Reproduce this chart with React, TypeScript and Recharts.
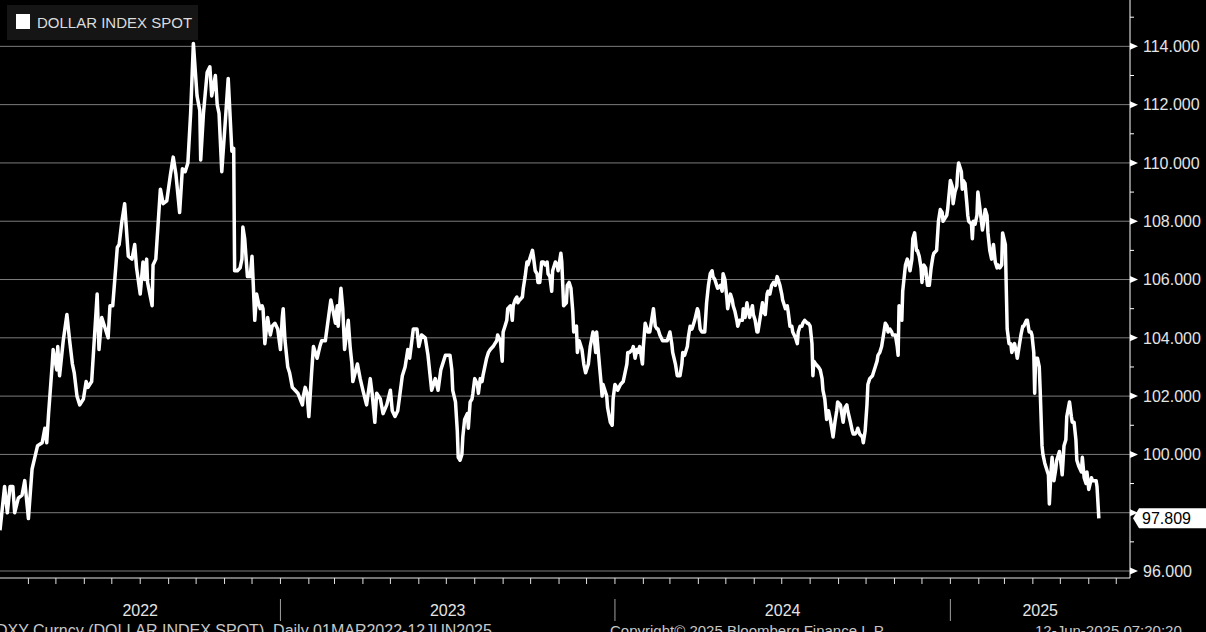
import React from 'react';
import { LineChart, Line, XAxis, YAxis, ReferenceLine } from 'recharts';

// ---- data ----
const seriesName = 'DOLLAR INDEX SPOT';

// days since 01 Mar 2022
const dayOffsets = [
  0,5,8,11,14,16,20,24,27,31,35,38,41,46,49,51,53,57,58,62,
  63,65,69,73,76,79,81,84,87,91,94,96,100,106,108,111,115,118,120,123,
  128,130,133,136,140,144,147,149,153,156,158,160,161,166,167,170,175,178,182,186,
  189,192,196,199,202,205,208,211,215,218,219,222,226,229,231,235,237,239,242,246,
  249,253,255,256,
  259,262,264,265,267,270,273,275,276,278,280,282,284,286,287,289,292,295,297,300,
  303,306,308,309,311,313,314,316,319,322,325,330,331,333,335,337,340,342,346,349,
  351,355,358,361,363,366,368,369,372,374,376,380,382,384,385,390,393,396,400,404,
  406,409,411,415,418,422,426,428,431,434,439,442,445,447,451,455,457,460,464,467,
  471,475,478,481,486,489,491,
  493,494,497,499,500,502,504,505,507,510,511,513,515,516,518,521,522,524,526,527,
  529,531,533,535,538,540,542,543,546,548,549,551,553,554,557,559,560,562,564,565,
  567,570,571,573,575,576,578,581,582,584,586,587,589,591,593,595,597,598,600,602,
  603,606,608,609,612,613,615,618,619,621,623,625,626,629,630,632,635,637,639,642,
  644,647,648,650,651,654,656,657,658,660,662,663,666,668,669,671,673,674,677,680,
  682,684,685,687,690,691,693,695,696,698,701,702,704,706,707,709,713,715,717,718,
  720,723,728,731,
  733,734,737,739,740,742,744,745,747,750,751,753,755,756,758,761,762,764,766,767,
  769,771,773,775,777,778,780,782,783,786,788,789,791,793,794,797,799,800,802,804,
  805,807,810,811,813,815,816,818,821,822,824,826,827,829,832,833,835,837,838,840,
  842,844,846,848,849,851,853,854,857,859,860,862,864,865,868,870,871,873,875,876,
  878,881,882,884,886,887,888,890,893,895,897,898,900,902,904,906,908,909,911,913,
  914,917,919,920,922,924,925,928,930,931,933,935,936,938,941,942,944,946,947,949,
  952,953,955,957,958,
  960,962,964,966,968,969,971,973,974,977,979,980,981,982,984,985,988,990,991,993,
  995,996,998,1000,1001,1003,1005,1006,1008,1010,1012,1014,1016,1018,1019,1022,1024,1026,1028,1029,
  1031,1033,1034,1037,1039,1040,1042,1044,1045,1046,1049,1050,1051,1053,1055,1056,1057,1060,1061,1062,
  1064,1066,1067,1069,1072,1073,1075,1077,1078,1080,1082,1084,1086,1088,1089,1091,1093,1094,1097,1098,
  1099,1101,1103,1104,1107,1109,1110,1112,1114,1116,1117,1120,1121,1123,1125,1126,1128,1129,1130,1132,
  1134,1135,1137,1138,1140,1143,1144,1145,1147,1148,1150,1152,1153,1156,1158,1159,1161,1163,1164,1167,
  1169,1170,1172,1174,1175,1177,1180,1181,1183,1185,1186,1188,1191,1192,1194,1196,1197,1199,
];

const dxyClose = [
  97.4,98.9,98.0,98.9,98.9,98.0,98.5,98.6,99.1,97.8,99.5,99.9,100.3,100.4,100.9,100.4,101.4,103.1,103.6,102.9,
  103.7,102.7,103.9,104.8,103.9,103.1,102.8,102.0,101.7,101.9,102.5,102.3,102.5,105.5,103.6,104.7,104.3,104.0,105.1,105.1,
  107.1,107.2,108.0,108.6,106.8,106.7,107.2,106.4,105.5,106.6,106.0,106.7,105.9,105.1,106.5,106.7,109.1,108.6,108.7,109.6,
  110.2,109.6,108.3,109.8,109.7,110.0,111.7,114.1,112.3,111.8,110.1,111.7,113.1,113.3,112.3,113.0,112.0,111.7,109.7,111.5,
  112.9,110.4,110.5,106.3,
  106.3,106.4,106.7,107.8,107.4,106.1,106.1,106.8,106.1,104.6,105.5,105.2,105.0,105.1,105.0,103.8,104.7,104.1,104.4,104.5,
  104.3,103.6,104.7,105.0,103.9,103.3,103.0,102.8,102.3,102.2,102.1,101.7,102.0,102.3,102.1,101.3,102.8,103.7,103.3,103.7,
  103.9,103.9,104.6,105.3,105.0,104.5,105.1,104.4,105.7,105.0,103.6,104.6,103.7,103.1,102.5,103.1,102.6,102.2,101.7,102.6,
  102.1,101.1,102.1,101.9,101.4,101.7,102.2,101.5,101.3,101.5,102.7,103.0,103.6,103.3,104.3,104.3,103.7,104.1,104.0,103.4,
  102.2,102.6,102.2,102.9,103.4,103.4,103.4,
  102.9,102.2,101.8,100.8,99.9,99.8,100.0,100.6,101.2,101.4,100.9,101.8,101.9,102.1,102.6,102.4,102.1,102.6,102.5,102.7,
  103.0,103.3,103.5,103.6,103.7,103.8,103.9,104.1,103.9,103.2,104.2,104.4,104.6,105.0,105.1,104.6,105.1,105.3,105.4,105.2,
  105.3,105.4,105.7,106.1,106.6,106.5,106.7,107.0,106.8,106.3,106.2,105.9,105.9,106.6,106.6,106.5,106.6,106.2,106.1,105.6,
  106.3,106.6,106.5,106.3,106.9,106.6,105.1,105.2,105.8,105.9,105.7,104.9,104.2,104.4,103.5,103.9,103.6,103.1,102.8,103.1,
  103.7,104.2,104.1,103.5,104.2,103.1,102.4,102.0,102.4,102.2,102.0,101.6,101.1,101.0,101.9,102.4,102.3,102.2,102.4,102.5,
  102.8,103.1,103.5,103.5,103.6,103.7,103.3,103.6,103.5,103.7,103.1,103.7,104.5,104.3,104.2,104.2,105.0,104.4,104.3,104.3,
  104.1,103.9,103.9,104.2,
  103.8,103.5,103.1,102.7,102.7,102.7,103.1,103.5,103.4,103.7,104.0,104.4,104.3,104.4,104.6,105.0,104.9,104.3,104.2,104.2,
  104.2,105.2,105.8,106.2,106.3,106.1,106.0,105.8,105.7,105.8,105.6,106.2,106.0,105.4,105.0,105.5,105.3,105.1,104.9,104.6,
  104.4,104.6,104.6,105.0,104.7,105.2,105.0,104.7,105.1,104.8,104.6,104.2,104.2,104.6,105.2,104.9,104.8,105.5,105.6,105.5,
  105.8,105.9,105.8,106.1,106.0,105.8,105.5,105.3,105.0,105.1,104.9,104.4,104.4,104.2,104.0,103.8,104.2,104.4,104.4,104.5,
  104.6,104.5,104.5,104.4,103.8,102.7,103.2,103.1,103.0,102.9,102.6,102.2,101.9,101.2,101.5,101.2,100.8,100.6,101.1,101.5,
  101.8,101.7,101.3,101.1,101.6,101.7,101.5,101.1,100.8,100.7,100.7,100.8,100.9,100.7,100.6,100.4,100.8,101.7,102.4,102.6,
  102.7,102.8,103.0,103.2,103.4,
  103.5,103.7,104.1,104.5,104.4,104.2,104.3,104.2,104.1,104.1,103.7,103.4,105.1,105.0,104.6,105.6,106.5,106.7,106.6,106.3,
  106.7,107.4,107.6,107.0,107.0,106.8,106.4,105.9,106.5,106.4,105.8,105.8,106.4,106.8,106.9,107.0,108.0,108.4,108.3,108.0,
  108.1,108.2,108.4,109.4,109.2,108.6,109.0,109.2,109.7,110.0,109.7,109.1,109.4,109.3,108.6,108.2,108.0,107.9,107.4,108.0,
  107.9,108.2,109.0,108.5,107.7,107.9,108.4,108.2,107.6,107.0,106.7,107.2,106.6,106.4,106.5,106.4,106.5,107.6,107.2,105.7,
  104.3,103.8,103.8,103.5,103.8,103.5,103.3,103.7,104.1,104.4,104.4,104.6,104.6,104.2,104.2,104.1,103.5,102.1,103.3,103.3,
  103.0,102.2,100.3,100.0,99.7,99.4,99.3,98.3,99.5,99.9,99.1,99.5,99.8,100.1,99.6,99.3,100.3,100.5,101.3,101.8,
  101.3,101.1,101.1,100.5,99.8,99.6,99.4,99.9,99.2,99.0,99.4,98.8,99.2,99.1,99.1,99.1,98.9,97.809,
];

const majorYTicks = [96, 98, 100, 102, 104, 106, 108, 110, 112, 114];
const minorYTicks = [97, 99, 101, 103, 105, 107, 109, 111, 113, 115];
const yearLabels = ['2022', '2023', '2024', '2025'];
const footerLeft = 'DXY Curncy (DOLLAR INDEX SPOT)  Daily 01MAR2022-12JUN2025';
const footerMid = 'Copyright\u00A9 2025 Bloomberg Finance L.P.';
const footerRight = '12-Jun-2025 07:20:20';

// ---- derived tables ----
const startUTC = Date.UTC(2022, 2, 1);
const dayOf = (y: number, m: number) => Math.round((Date.UTC(y, m, 1) - startUTC) / 86400000);
const xDomainEnd = dayOf(2025, 6) + 15; // mid Jul 2025 = right edge of the plot

const monthStarts: number[] = [];
for (let y = 2022; y <= 2025; y++) {
  for (let m = 0; m < 12; m++) {
    const d = dayOf(y, m);
    if (d > 0 && d < xDomainEnd) monthStarts.push(d);
  }
}
const yearBounds = [dayOf(2023, 0), dayOf(2024, 0), dayOf(2025, 0)];
const spanEdges = [0, ...yearBounds, xDomainEnd];
const yearCenters = yearLabels.map((_, i) => (spanEdges[i] + spanEdges[i + 1]) / 2);
const yearTicks = [...yearCenters, ...yearBounds].sort((a, b) => a - b);

const chartData = dayOffsets.map((d, i) => ({ day: d, dxy: dxyClose[i] }));
const lastValue = dxyClose[dxyClose.length - 1];
const yTicks = [...minorYTicks, ...majorYTicks].sort((a, b) => a - b).concat([lastValue]);

const FONT = '"Liberation Sans", Arial, sans-serif';

const YTick = (props: any) => {
  const { x, y, payload } = props;
  const v = payload.value as number;
  if (v === lastValue) {
    return (
      <g>
        <path
          d={`M${x + 3},${y} L${x + 9},${y - 10} L${x + 76},${y - 10} L${x + 76},${y + 10} L${x + 9},${y + 10} Z`}
          fill="#ffffff"
        />
        <text x={x + 12} y={y} dy="0.36em" fill="#000" fontSize={16} fontFamily={FONT}>
          {v.toFixed(3)}
        </text>
      </g>
    );
  }
  if (majorYTicks.includes(v)) {
    return (
      <g>
        <path d={`M${x},${y - 3.5} L${x + 8},${y} L${x},${y + 3.5} Z`} fill="#ffffff" />
        {Math.abs(v - lastValue) > 0.6 && (
          <text x={x + 13} y={y} dy="0.36em" fill="#e4e4e4" fontSize={16} fontFamily={FONT}>
            {v.toFixed(3)}
          </text>
        )}
      </g>
    );
  }
  return <line x1={x} x2={x + 4} y1={y} y2={y} stroke="#ffffff" strokeWidth={1} />;
};

const MonthTick = (props: any) => {
  const { x, y } = props;
  return <line x1={x} x2={x} y1={y} y2={y + 6} stroke="#e0e0e0" strokeWidth={1} />;
};

const YearTick = (props: any) => {
  const { x, y, payload } = props;
  const v = payload.value as number;
  const bi = yearBounds.indexOf(v);
  if (bi >= 0) {
    return <line x1={x} x2={x} y1={y + 1} y2={y + 23} stroke="#a0a0a0" strokeWidth={1} />;
  }
  const ci = yearCenters.indexOf(v);
  return (
    <text x={x} y={y + 18} textAnchor="middle" fill="#e4e4e4" fontSize={16} fontFamily={FONT}>
      {yearLabels[ci]}
    </text>
  );
};

export default function App() {
  return (
    <div style={{ position: 'fixed', left: 0, top: 0, width: 1206, height: 632, background: '#000', overflow: 'hidden' }}>
      <LineChart width={1206} height={632} data={chartData} margin={{ top: 0, right: 0, bottom: 0, left: 0 }}>
        <XAxis
          xAxisId="m"
          dataKey="day"
          type="number"
          domain={[0, xDomainEnd]}
          ticks={monthStarts}
          interval={0}
          tickLine={false}
          tickSize={0}
          tickMargin={0}
          axisLine={{ stroke: '#e8e8e8', strokeWidth: 1 }}
          height={20}
          tick={(p: any) => <MonthTick {...p} />}
          allowDataOverflow
        />
        <XAxis
          xAxisId="y"
          dataKey="day"
          type="number"
          domain={[0, xDomainEnd]}
          ticks={yearTicks}
          interval={0}
          tickLine={false}
          tickSize={0}
          tickMargin={0}
          axisLine={false}
          height={34}
          tick={(p: any) => <YearTick {...p} />}
          allowDataOverflow
        />
        <YAxis
          orientation="right"
          type="number"
          domain={[95.76, 115.59]}
          ticks={yTicks}
          interval={0}
          tickLine={false}
          tickSize={0}
          tickMargin={0}
          axisLine={{ stroke: '#ffffff', strokeWidth: 1 }}
          width={76}
          tick={(p: any) => <YTick {...p} />}
          allowDataOverflow
        />
        {majorYTicks.map((v) => (
          <ReferenceLine key={v} y={v} xAxisId="m" stroke="#7c7c7c" strokeWidth={1} />
        ))}
        <Line
          xAxisId="m"
          type="linear"
          dataKey="dxy"
          stroke="#ffffff"
          strokeWidth={3.5}
          strokeLinejoin="round"
          dot={false}
          activeDot={false}
          isAnimationActive={false}
          name={seriesName}
        />
      </LineChart>
      <svg width={1206} height={632} style={{ position: 'absolute', left: 0, top: 0, pointerEvents: 'none' }}>
        <rect x={7} y={5} width={191} height={35} fill="#151515" />
        <rect x={16} y={14} width={14} height={15} fill="#ffffff" />
        <text x={37} y={28} fill="#dcdcdc" fontSize={15} fontFamily={FONT}>{seriesName}</text>
        <text x={-4} y={636} fill="#c8c8c8" fontSize={16} fontFamily={FONT} style={{ whiteSpace: 'pre' }}>{footerLeft}</text>
        <text x={610} y={636} fill="#c8c8c8" fontSize={15} fontFamily={FONT} style={{ whiteSpace: 'pre' }}>{footerMid}</text>
        <text x={1035} y={636} fill="#c8c8c8" fontSize={15} fontFamily={FONT} style={{ whiteSpace: 'pre' }}>{footerRight}</text>
      </svg>
    </div>
  );
}
